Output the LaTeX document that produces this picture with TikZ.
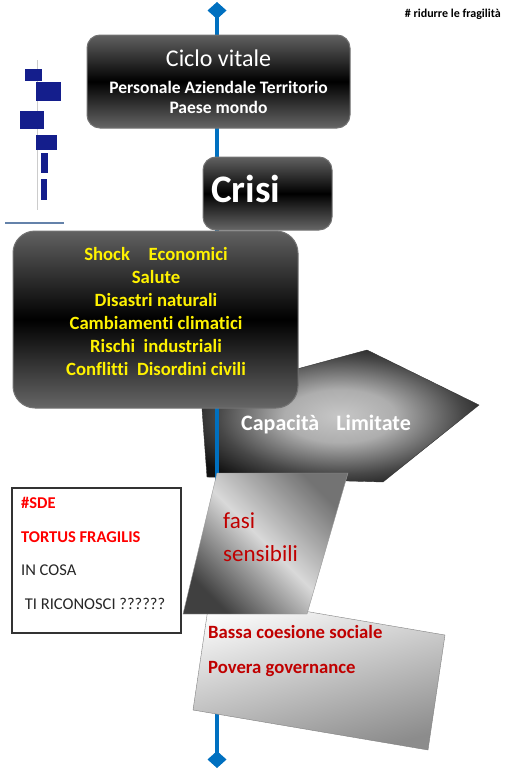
\documentclass[tikz,border=0pt]{standalone}
\usepackage{fontspec}
\setmainfont{Carlito}[Ligatures=NoCommon]
\usetikzlibrary{arrows.meta}
\definecolor{spineblue}{RGB}{0,112,192}
\definecolor{darkred}{RGB}{192,0,0}
\definecolor{thumbblue}{RGB}{20,30,140}
\definecolor{rulesteel}{RGB}{100,130,170}
\pgfdeclareradialshading{pentaglow}{\pgfpoint{0bp}{0bp}}{color(0bp)=(black!22); color(10bp)=(black!32); color(22bp)=(black!72); color(30bp)=(black!93); color(50bp)=(black)}
\begin{document}
\begin{tikzpicture}[x=1pt,y=-1pt,
  darkbox/.style={draw=black!55,line width=1pt,rounded corners=13pt,top color=black!62,bottom color=black!60,middle color=black},
  spine/.style={draw=spineblue,line width=4pt,{Diamond[width=19pt,length=17pt]}-{Diamond[width=19pt,length=17pt]}}]
\tikzstyle{every node}+=[inner sep=0pt]
\useasboundingbox (0,0) rectangle (504,771);
\coordinate (spinetop) at (217,2);
\coordinate (spinebot) at (217,768);
\shadedraw[draw=black!80,shading=pentaglow] (201,395) -- (367,350) -- (479,405) -- (383,482) -- (207,477) -- cycle;
\node[text=white,font=\fontsize{22}{24}\selectfont\bfseries] (capacity) at (326,425) {Capacità\hspace{17pt}Limitate};
\draw[spine] (spinetop) -- (spinebot);
\node[darkbox,text=white,align=center,minimum width=263pt,minimum height=93pt,font=\fontsize{17.5}{20}\selectfont\bfseries] (cycle) at (218.5,81.5) {{\mdseries\fontsize{24}{20}\selectfont Ciclo vitale}\\[7pt]Personale Aziendale Territorio\\Paese mondo};
\node[darkbox,minimum width=129pt,minimum height=73pt] (crisis) at (267.5,193.5) {};
\node[anchor=west,text=white,font=\fontsize{39}{39}\selectfont\bfseries] (crisislabel) at (211,189) {Crisi};
\node[darkbox,rounded corners=22pt,minimum width=285pt,minimum height=177pt] (hazards) at (155.5,319.5) {};
\node[text=yellow,align=center,font=\fontsize{18.7}{23}\selectfont\bfseries] (hazardlist) at (156,312) {Shock\quad Economici\\Salute\\Disastri naturali\\Cambiamenti climatici\\Rischi~~industriali\\Conflitti~~Disordini civili};
\shadedraw[draw=black!50,top color=white,bottom color=black!45,shading angle=15] (210,595) -- (445,635) -- (428,750) -- (193,710) -- cycle;
\node[anchor=north west,text=darkred,align=left,font=\fontsize{18.7}{35}\selectfont\bfseries] (weakness) at (208,625) {Bassa coesione sociale\\Povera governance};
\shadedraw[draw=black!40,top color=black!55,bottom color=black!75,middle color=black!15,shading angle=-45] (217,473) -- (348,473) -- (307,614) -- (183,614) -- cycle;
\node[anchor=north west,text=darkred,align=left,font=\fontsize{23}{33}\selectfont] (phases) at (223,512) {fasi\\sensibili};
\node[draw=black!80,line width=1.5pt,fill=white,minimum width=169pt,minimum height=145pt] (question) at (96.5,560.5) {};
\node[anchor=north west,align=left,text=black!85,font=\fontsize{16.5}{33.5}\selectfont] (questiontext) at (21,497.5) {\textcolor{red}{\bfseries\#SDE}\\\textcolor{red}{\bfseries TORTUS FRAGILIS}\\IN COSA\\~TI RICONOSCI ??????};
\node[anchor=base east,font=\fontsize{12}{12}\selectfont\bfseries] (motto) at (501,17) {\# ridurre le fragilità};
\draw[black!20,line width=1pt] (37,60) -- (37,210);
\fill[thumbblue] (25,69) rectangle (42,81);
\fill[thumbblue] (36,82) rectangle (61,101);
\fill[thumbblue] (20,111) rectangle (44,129);
\fill[thumbblue] (36,135) rectangle (57,150);
\fill[thumbblue] (41,153) rectangle (48,173);
\fill[thumbblue] (41,179) rectangle (47,200);
\draw[rulesteel,line width=1.5pt] (5,223) -- (64,223);
\end{tikzpicture}
\end{document}
